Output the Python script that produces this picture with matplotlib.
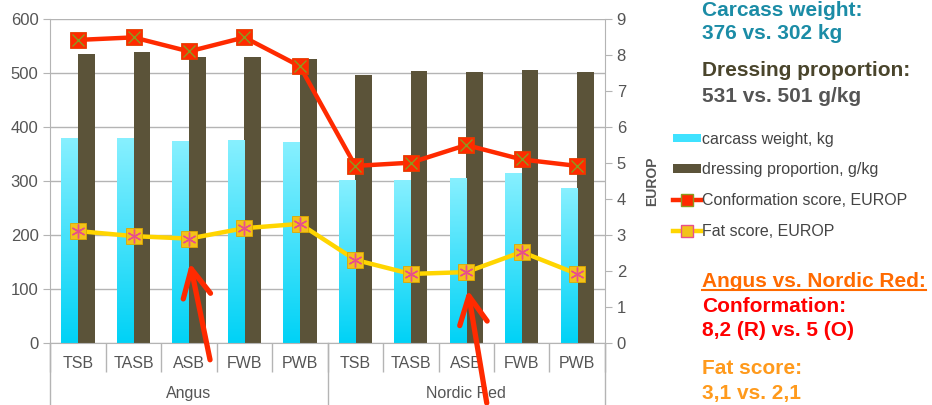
import numpy as np
import matplotlib
matplotlib.use("Agg")
import matplotlib.pyplot as plt
from matplotlib.lines import Line2D
from matplotlib.patches import Patch
from matplotlib.colors import LinearSegmentedColormap
from matplotlib.transforms import blended_transform_factory

plt.rcParams["font.family"] = ["Liberation Sans", "DejaVu Sans"]

# slaughter data per feeding group, two breeds
groups = ["Angus", "Nordic Red"]
diets = ["TSB", "TASB", "ASB", "FWB", "PWB"]
carcass_weight = [380, 380, 374, 376, 372, 302, 302, 306, 315, 287]         # kg
dressing_prop = [535, 539, 530, 529, 526, 496, 503, 502, 506, 502]          # g/kg
conformation = [8.42, 8.49, 8.10, 8.49, 7.69, 4.92, 5.01, 5.50, 5.10, 4.92]  # EUROP
fat_score = [3.11, 2.97, 2.90, 3.19, 3.31, 2.31, 1.92, 1.97, 2.53, 1.92]     # EUROP

CYAN_TOP = "#88f0ff"
CYAN_BOT = "#00d2f6"
OLIVE = "#5b5339"
RED = "#ff2a00"
YELLOW = "#ffd500"
GRAY_TXT = "#555555"
GRID = "#b4b4b4"

labels = diets * len(groups)
x = np.arange(len(labels))
w = 0.3

fig = plt.figure(figsize=(9.32, 4.05), dpi=100)
ax = fig.add_axes([0.054, 0.153, 0.595, 0.8])
ax2 = ax.twinx()

# bars on the left axis
cyan_bars = ax.bar(x - w / 2, carcass_weight, w, color=CYAN_BOT, zorder=2)
ax.bar(x + w / 2, dressing_prop, w, color=OLIVE, zorder=2)

# vertical gradient inside the carcass-weight bars
cmap = LinearSegmentedColormap.from_list("cy", [CYAN_BOT, CYAN_TOP])
grad = np.linspace(0, 1, 256).reshape(-1, 1)
for b in cyan_bars:
    bx, by = b.get_x(), b.get_y()
    bw, bh = b.get_width(), b.get_height()
    im = ax.imshow(grad, cmap=cmap, origin="lower", aspect="auto",
                   extent=[bx, bx + bw, by, by + bh], zorder=2.1)
    im.set_clip_path(b)

ax.set_xlim(-0.5, len(labels) - 0.5)
ax.set_ylim(0, 600)
ax.set_yticks(range(0, 601, 100))
ax.yaxis.grid(True, color=GRID, linewidth=1)
ax.set_axisbelow(True)

# score lines on the right axis
ax2.plot(x, conformation, color=RED, linewidth=3.2, zorder=3)
ax2.plot(x, conformation, linestyle="none", marker="s", markersize=11,
         markerfacecolor=RED, markeredgecolor="#e04000", markeredgewidth=0.6, zorder=4)
ax2.plot(x, conformation, linestyle="none", marker="x", markersize=9,
         markeredgecolor="#8c9a1e", markeredgewidth=1.0, zorder=5)

ax2.plot(x, fat_score, color=YELLOW, linewidth=3.2, zorder=3)
ax2.plot(x, fat_score, linestyle="none", marker="s", markersize=11,
         markerfacecolor="#f2c21a", markeredgecolor="#e0a800", markeredgewidth=0.6, zorder=4)
ax2.plot(x, fat_score, linestyle="none", marker=(6, 2, 0), markersize=10,
         markeredgecolor="#e8508a", markeredgewidth=1.0, zorder=5)

ax2.set_ylim(0, 9)
ax2.set_yticks(range(0, 10))
ax2.set_ylabel("EUROP", fontsize=10, fontweight="bold", color=GRAY_TXT, labelpad=14)

# spines and ticks
for a in (ax, ax2):
    for s in a.spines.values():
        s.set_color(GRID)
    a.spines["top"].set_visible(False)
ax.spines["right"].set_visible(False)
ax2.spines["left"].set_visible(False)
ax2.spines["bottom"].set_visible(False)

ax.tick_params(axis="y", labelsize=12, labelcolor=GRAY_TXT, color=GRID, length=5)
ax2.tick_params(axis="y", labelsize=12, labelcolor=GRAY_TXT, color=GRID, length=5)

# two-level category axis
ax.set_xticks(x)
ax.set_xticklabels(labels)
ax.tick_params(axis="x", which="major", length=0, pad=9, labelsize=11.5, labelcolor=GRAY_TXT)
ax.set_xticks(np.arange(-0.5, len(labels), 1), minor=True)
ax.tick_params(axis="x", which="minor", length=21, color=GRID, width=1)

trans = blended_transform_factory(ax.transData, ax.transAxes)
for gi, g in enumerate(groups):
    center = gi * len(diets) + (len(diets) - 1) / 2
    ax.text(center, -0.155, g, transform=trans, ha="center", va="center",
            fontsize=11.5, color=GRAY_TXT)
for sep in np.arange(-0.5, len(labels), len(diets)):
    ax.plot([sep, sep], [0, -0.25], transform=trans, color=GRID,
            linewidth=1, clip_on=False)

# red pointer arrows at the ASB groups
for tip_x, tip_y, tail_x, tail_y in [(2.02, 148, 2.38, -31), (7.03, 98, 7.37, -111)]:
    ax.annotate("", xy=(tip_x, tip_y), xytext=(tail_x, tail_y),
                arrowprops=dict(arrowstyle="->,head_length=2.0,head_width=1.0",
                                color=RED, linewidth=3.8, shrinkA=0, shrinkB=0,
                                capstyle="round", joinstyle="round"),
                annotation_clip=False, zorder=10)

# legend
handles = [
    Patch(facecolor="#3fe2ff", edgecolor="none"),
    Patch(facecolor=OLIVE, edgecolor="none"),
    Line2D([0], [0], color=RED, linewidth=3.2, marker="s", markersize=8,
           markerfacecolor=RED, markeredgecolor="#8c9a1e"),
    Line2D([0], [0], color=YELLOW, linewidth=3.2, marker="s", markersize=8,
           markerfacecolor="#f2c21a", markeredgecolor="#e8508a"),
]
leg_labels = ["carcass weight, kg", "dressing proportion, g/kg",
              "Conformation score, EUROP", "Fat score, EUROP"]
fig.legend(handles, leg_labels, loc="upper left", bbox_to_anchor=(0.722, 0.675),
           frameon=False, fontsize=11.5, labelcolor="#444444", handlelength=1.75,
           handleheight=0.45, handletextpad=0.1, labelspacing=0.98, borderaxespad=0,
           borderpad=0)

# summary text on the right
tx = 0.753
fs = 15
fig.text(tx, 0.975, "Carcass weight:", color="#1b8ca6", fontsize=fs,
         fontweight="bold", va="center")
fig.text(tx, 0.917, "376 vs. 302 kg", color="#1b8ca6", fontsize=fs,
         fontweight="bold", va="center")
fig.text(tx, 0.826, "Dressing proportion:", color="#4a452c", fontsize=fs,
         fontweight="bold", va="center")
fig.text(tx, 0.762, "531 vs. 501 g/kg", color="#555555", fontsize=fs,
         fontweight="bold", va="center")
t = fig.text(tx, 0.306, "Angus vs. Nordic Red:", color="#ff6a00", fontsize=fs,
             fontweight="bold", va="center")
fig.canvas.draw()
bb = t.get_window_extent().transformed(fig.transFigure.inverted())
fig.add_artist(Line2D([bb.x0, bb.x1], [bb.y0 + 0.002, bb.y0 + 0.002],
                      color="#ff6a00", linewidth=1.5, transform=fig.transFigure))
fig.text(tx, 0.242, "Conformation:", color="#ff0000", fontsize=fs,
         fontweight="bold", va="center")
fig.text(tx, 0.183, "8,2 (R) vs. 5 (O)", color="#ff0000", fontsize=fs,
         fontweight="bold", va="center")
fig.text(tx, 0.089, "Fat score:", color="#ff9a1c", fontsize=fs,
         fontweight="bold", va="center")
fig.text(tx, 0.028, "3,1 vs. 2,1", color="#ff9a1c", fontsize=fs,
         fontweight="bold", va="center")

fig.savefig("out.png", dpi=100)
